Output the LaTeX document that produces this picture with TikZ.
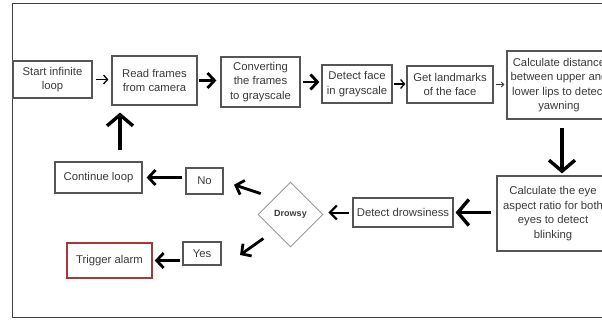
\documentclass[tikz,border=0pt]{standalone}
\usepackage{fontspec}
\setmainfont{Liberation Sans}
\usetikzlibrary{arrows.meta,shapes.geometric}
\definecolor{txt}{HTML}{3A3A3A}
\definecolor{edge}{HTML}{555555}
\definecolor{alarm}{HTML}{A33A3A}
\definecolor{frm}{HTML}{3F3F3F}
\begin{document}
\begin{tikzpicture}[x=1pt,y=-1pt,
  box/.style={draw=edge, line width=1.2pt, text=txt, align=center, inner sep=0pt,
    font=\fontsize{11.3}{14.5}\selectfont, rectangle},
  dec/.style={diamond, draw=edge!60, line width=0.9pt, text=txt, inner sep=0pt,
    font=\fontsize{9}{10}\selectfont\bfseries},
  thinarr/.style={-{Straight Barb[length=4pt,width=9pt]}, line width=1.3pt, black},
  tinyarr/.style={-{Straight Barb[length=2.5pt,width=5pt]}, line width=0.9pt, black!80},
  midarr/.style={-{Straight Barb[length=7pt,width=14pt]}, line width=2pt, black},
  thickarr/.style={-{Straight Barb[length=7pt,width=15pt]}, line width=2.8pt, black},
  hugearr/.style={-{Straight Barb[length=11pt,width=26pt]}, line width=3.4pt, black},
  frame/.style={draw=frm, line width=1.5pt}]
\useasboundingbox (0,0) rectangle (602,322);
\clip (0,0) rectangle (602,322);
\draw[frame] (660,3.5) -- (12.5,3.5) -- (12.5,317.5) -- (660,317.5);

\node[box, minimum width=79pt, minimum height=37pt] (start) at (52.5,79.5) {Start infinite\\loop};
\node[box, minimum width=85pt, minimum height=49pt] (read) at (154.5,80.5) {Read frames\\from camera};
\node[box, minimum width=79pt, minimum height=50pt] (conv) at (260.5,82) {Converting\\the frames\\to grayscale};
\node[box, minimum width=70pt, minimum height=38pt] (face) at (357,84) {Detect face\\in grayscale};
\node[box, minimum width=86pt, minimum height=37pt] (land) at (450,84.5) {Get landmarks\\of the face};
\node[box, minimum width=104pt, minimum height=68pt] (dist) at (559,85) {Calculate distance\\between upper and\\lower lips to detect\\yawning};
\node[box, minimum width=112pt, minimum height=75pt] (eye) at (553,213.5) {Calculate the eye\\aspect ratio for both\\eyes to detect\\blinking};
\node[box, minimum width=100pt, minimum height=29pt] (drow) at (403,212.5) {Detect drowsiness};
\node[dec, minimum width=65pt, minimum height=65pt] (dia) at (290.5,214.5) {Drowsy};
\node[box, minimum width=37pt, minimum height=26pt] (no) at (204.5,181) {No};
\node[box, minimum width=87pt, minimum height=31pt] (cont) at (98.5,177.5) {Continue loop};
\node[box, minimum width=38pt, minimum height=23pt] (yes) at (202,253.5) {Yes};
\node[box, draw=alarm, line width=1.5pt, minimum width=85pt, minimum height=35pt] (trig) at (109.5,260.5) {Trigger alarm};

\draw[thinarr, shorten <=3pt, shorten >=3pt] (start.east) -- (start.east -| read.west);
\draw[thickarr, shorten <=1pt, shorten >=4pt] (read.east) -- (read.east -| conv.west);
\draw[thickarr, shorten <=2pt, shorten >=2pt] (conv.east) -- (conv.east -| face.west);
\draw[thinarr, shorten <=1pt, shorten >=1pt] (face.east) -- (face.east -| land.west);
\draw[tinyarr, shorten <=2pt, shorten >=2pt] (land.east) -- (land.east -| dist.west);
\draw[hugearr, shorten <=8pt, shorten >=2pt] ([xshift=3pt]dist.south) -- ([xshift=3pt]dist.south |- eye.north);
\draw[hugearr, shorten <=5pt, shorten >=2pt] (eye.west |- drow.east) -- (drow.east);
\draw[midarr, shorten <=3pt, shorten >=5pt] (drow.west) -- (drow.west -| dia.east);
\draw[thickarr, shorten <=14pt] (dia.north west) -- ++(-40,-13.3);
\draw[thickarr, shorten <=13pt] (dia.south west) -- ++(-34,24);
\draw[thickarr, shorten <=3pt, shorten >=4pt] (no.west |- cont.east) -- (cont.east);
\draw[thickarr, shorten <=2pt, shorten >=2pt] (yes.west |- trig.east) -- (trig.east);
\coordinate (upS) at (120,150);
\draw[hugearr, shorten >=7pt] (upS) -- (upS |- read.south);
\end{tikzpicture}
\end{document}
